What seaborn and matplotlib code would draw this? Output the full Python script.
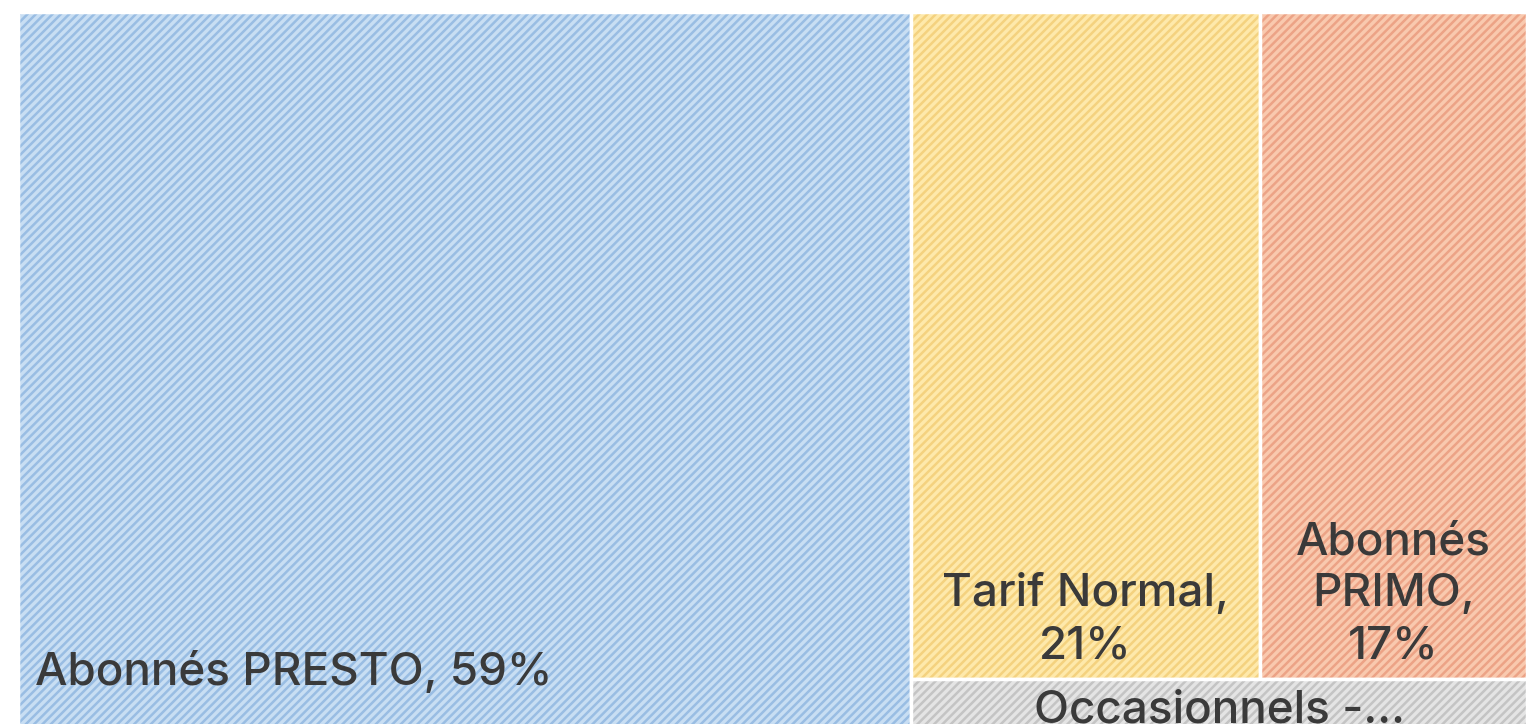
"""
Treemap of fare categories (share of trips), drawn with matplotlib patches
on a seaborn-styled axis.
"""

import matplotlib
matplotlib.use("Agg")
import matplotlib.pyplot as plt
from matplotlib.patches import Rectangle
import seaborn as sns

# Data
labels = ["Abonnés PRESTO", "Tarif Normal", "Abonnés PRIMO", "Occasionnels - Autres"]
shown_text = ["Abonnés PRESTO, 59%", "Tarif Normal,\n21%", "Abonnés\nPRIMO,\n17%", "Occasionnels -..."]
shares = [59.2, 21.3, 16.3, 3.2]

fill_colors = ["#c8def3", "#fee9ab", "#f9c9ae", "#e4e4e4"]
hatch_colors = ["#99bde3", "#f4d27f", "#eca386", "#c4c4c4"]

sns.set_theme(style="white")
plt.rcParams["font.family"] = ["Inter", "DejaVu Sans"]
plt.rcParams["hatch.linewidth"] = 1.8

W, H = 1509.0, 724.0


def layout(values, w, h):
    # first tile takes a full-height column, the rest fill the right column:
    # a top row of two tiles and a bottom strip with the last one
    total = sum(values)
    x0 = w * values[0] / total
    rects = [(0, 0, x0, h)]
    rest = sum(values[1:])
    cw = w - x0
    top = sum(values[1:3])
    th = h * top / rest
    x = x0
    for v in values[1:3]:
        tw = cw * v / top
        rects.append((x, 0, tw, th))
        x += tw
    rects.append((x0, th, cw, h - th))
    return rects


fig = plt.figure(figsize=(15.27, 7.24), dpi=100)
ax = fig.add_axes([18 / 1527, -12 / 724, 1509 / 1527, 1.0])
ax.set_xlim(0, W)
ax.set_ylim(H, 0)
ax.axis("off")

rects = layout(shares, W, H)
for i, (x, y, w, h) in enumerate(rects):
    ax.add_patch(Rectangle((x, y), w, h, facecolor=fill_colors[i],
                           edgecolor=hatch_colors[i], hatch="/" * 4,
                           linewidth=0))
    ax.add_patch(Rectangle((x, y), w, h, facecolor="none",
                           edgecolor="white", linewidth=2.5))

txt = dict(color="#3a3a3a", fontsize=33, fontweight="medium", linespacing=1.3)
x, y, w, h = rects[0]
ax.text(x + 17, y + h - 42, shown_text[0], ha="left", va="bottom", **txt)
for i in (1, 2):
    x, y, w, h = rects[i]
    ax.text(x + w / 2, y + h - 12, shown_text[i], ha="center", va="bottom",
            multialignment="center", **txt)
x, y, w, h = rects[3]
ax.text(x + w / 2, y + 10, shown_text[3], ha="center", va="top", **txt)

fig.savefig("out.png", dpi=100)
